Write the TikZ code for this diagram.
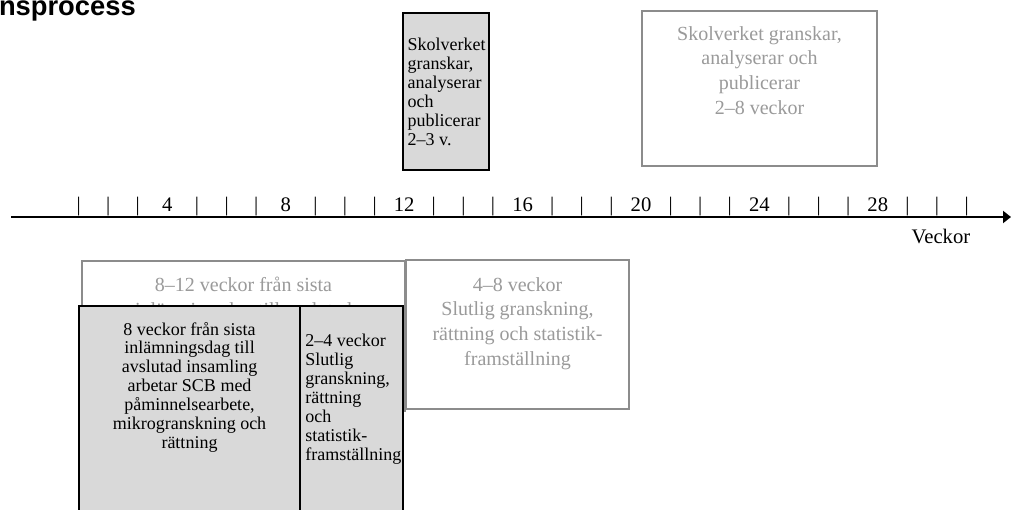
\documentclass[tikz,border=0pt]{standalone}
\usepackage{fontspec}
\setmainfont{Liberation Serif}
\newfontfamily\titlefont{Liberation Sans}
\usetikzlibrary{positioning,arrows.meta}
\definecolor{boxfill}{HTML}{D9D9D9}
\definecolor{boxgray}{HTML}{8C8C8C}
\definecolor{txtgray}{HTML}{9A9A9A}

\begin{document}
\begin{tikzpicture}[
      x=0.75pt, y=-0.75pt,
      every node/.style={inner sep=0pt, outer sep=0pt},
      greybox/.style={draw=boxgray, line width=1.5pt, fill=white, anchor=north west},
      darkbox/.style={draw=black, line width=1.3pt, fill=boxfill, anchor=north west},
      greytext/.style={
        text=txtgray,
        font=\fontsize{15}{18.5}\selectfont,
        align=center,
        anchor=north
      },
      blacktext/.style={
        font=\fontsize{13.5}{14.2}\selectfont,
        align=left,
        anchor=north west
      },
      tick/.style={font=\fontsize{15.5}{17}\selectfont, anchor=base}
    ]
      \useasboundingbox (0,0) rectangle (1011,510);
      \clip (0,0) rectangle (1011,510);

      % rubrik (avklippt)
      \node[font=\titlefont\bfseries\fontsize{20.5}{21}\selectfont, anchor=base west] (title) at (-1,15.5) {nsprocess};

      % tidsaxel
      \coordinate (axstart) at (11,217);
      \coordinate (axend) at (1011,217);
      \draw[line width=1.6pt, -{Triangle[length=6pt,width=9pt]}] (axstart) -- (axend);
      \foreach \w in {1,...,31} {
        \pgfmathtruncatemacro\r{mod(\w,4)}
        \ifnum\r=0
          \node[tick] (w\w) at (49+29.6*\w,211) {\w};
        \else
          \node[tick] (w\w) at (49+29.6*\w,211) {|};
        \fi
      }
      \node[tick, anchor=north] (unit) at (941,229) {Veckor};

      % ovanfoer axeln
      \node[darkbox, minimum width=64.5pt, minimum height=117.75pt] (skv) at (403,13) {};
      \node[blacktext, below right=19pt and 3.5pt of skv.north west] (skvtxt) {
        Skolverket\\
        granskar,\\
        analyserar\\
        och\\
        publicerar\\
        2–3 v.
      };
      \node[greybox, minimum width=176.25pt, minimum height=116.25pt] (skvg) at (642,11) {};
      \node[greytext, below=11.5pt of skvg.north] (skvgtxt) {
        Skolverket granskar,\\
        analyserar och\\
        publicerar\\
        2–8 veckor
      };

      % nedanfoer axeln
      \node[greybox, minimum width=242.25pt, minimum height=112.5pt] (insg) at (82,261) {};
      \node[greytext, below=12pt of insg.north] (insgtxt) {
        8–12 veckor från sista\\
        inlämningsdag till avslutad
      };
      \node[greybox, minimum width=167.25pt, minimum height=111.75pt] (slutg) at (406,260) {};
      \node[greytext, below=13pt of slutg.north] (slutgtxt) {
        4–8 veckor\\
        Slutlig granskning,\\
        rättning och statistik-\\
        framställning
      };
      \node[darkbox, minimum width=165.75pt, minimum height=170pt] (ins) at (79,306) {};
      \node[blacktext, align=center, anchor=north, below=12pt of ins.north] (instxt) {
        8 veckor från sista\\
        inlämningsdag till\\
        avslutad insamling\\
        arbetar SCB med\\
        påminnelsearbete,\\
        mikrogranskning och\\
        rättning
      };
      \node[darkbox, minimum width=77.25pt, minimum height=170pt] (slut) at (300,306) {};
      \node[blacktext, below right=21pt and 4pt of slut.north west] (sluttxt) {
        2–4 veckor\\
        Slutlig\\
        granskning,\\
        rättning\\
        och\\
        statistik-\\
        framställning
      };
    \end{tikzpicture}
\end{document}
